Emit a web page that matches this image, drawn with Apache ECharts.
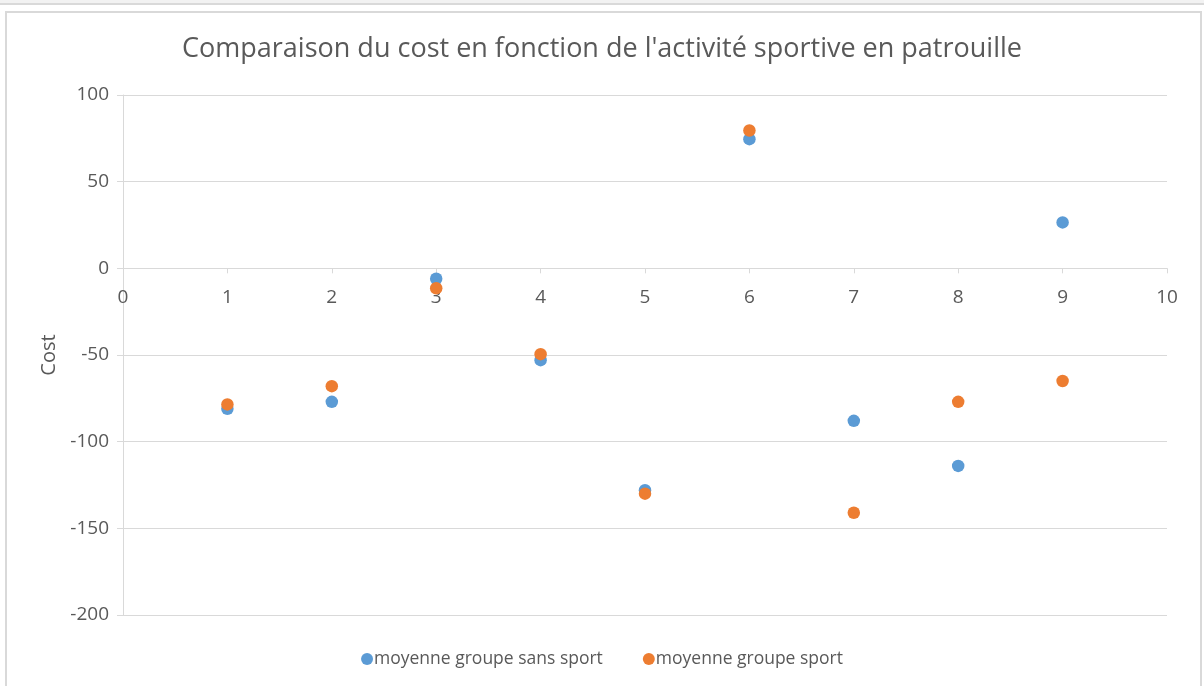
<!DOCTYPE html>
<html>
<head>
<meta charset="utf-8">
<script src="https://cdn.jsdelivr.net/npm/echarts@6/dist/echarts.min.js"></script>
<style>
  html, body { margin: 0; padding: 0; background: #ffffff; }
  #chart { width: 1204px; height: 686px; }
</style>
</head>
<body>
<div id="chart"></div>
<script>
// Patrol index (x) and mean cost per group
const patrouilles = [1, 2, 3, 4, 5, 6, 7, 8, 9];
const sansSport = [-81, -77, -6, -53, -128, 74.5, -88, -114, 26.5];
const avecSport = [-78.5, -68, -11.5, -49.5, -130, 79.5, -141, -77, -65];

const seriesNames = ['moyenne groupe sans sport', 'moyenne groupe sport'];
const colors = ['#5B9BD5', '#ED7D31'];
const FONT = '"Open Sans", "Liberation Sans", sans-serif';
const TXT = '#595959';
const GRID_LINE = '#d9d9d9';

// plot area geometry
const GRID = { left: 123, right: 37, top: 95, bottom: 71 };
const Y_MIN = -200, Y_MAX = 100;
const plotH = 686 - GRID.top - GRID.bottom;
// lift the x axis (line, ticks and labels) up to y = 0
const xAxisOffset = -plotH * (0 - Y_MIN) / (Y_MAX - Y_MIN);

const toPairs = (xs, ys) => xs.map((x, i) => [x, ys[i]]);

const chart = echarts.init(document.getElementById('chart'), null, { renderer: 'canvas' });
chart.setOption({
  backgroundColor: '#ffffff',
  animation: false,
  textStyle: { fontFamily: FONT },
  title: {
    text: "Comparaison du cost en fonction de l'activité sportive en patrouille",
    left: 'center',
    top: 31,
    textStyle: { fontFamily: FONT, fontSize: 27, fontWeight: 'normal', color: TXT }
  },
  graphic: [
    { type: 'rect', shape: { x: 0, y: 0, width: 1204, height: 4 }, style: { fill: '#f2f2f2' } },
    { type: 'line', shape: { x1: 0, y1: 4, x2: 1204, y2: 4 }, style: { stroke: GRID_LINE, lineWidth: 2 } },
    { type: 'polyline', shape: { points: [[6, 686], [6, 12], [1201, 12], [1201, 686]] },
      style: { stroke: GRID_LINE, lineWidth: 2, fill: null } }
  ],
  legend: {
    bottom: 13,
    left: 'center',
    itemGap: 40,
    itemWidth: 12,
    itemHeight: 12,
    icon: 'circle',
    textStyle: { fontFamily: FONT, fontSize: 17.5, color: TXT, padding: [0, 0, 0, -4] },
    data: seriesNames
  },
  grid: { left: GRID.left, right: GRID.right, top: GRID.top, bottom: GRID.bottom, containLabel: false },
  xAxis: {
    type: 'value',
    min: 0, max: 10, interval: 1,
    offset: xAxisOffset,
    axisLine: { onZero: false, lineStyle: { color: GRID_LINE, width: 1 } },
    axisTick: { show: true, length: 5, lineStyle: { color: GRID_LINE } },
    axisLabel: { color: TXT, fontSize: 19, fontFamily: FONT, margin: 20 },
    splitLine: { show: false }
  },
  yAxis: {
    type: 'value',
    min: Y_MIN, max: Y_MAX, interval: 50,
    name: 'Cost',
    nameLocation: 'middle',
    nameRotate: 90,
    nameGap: 64,
    nameTextStyle: { color: TXT, fontSize: 20, fontFamily: FONT },
    axisLine: { show: true, onZero: false, lineStyle: { color: GRID_LINE, width: 1 } },
    axisTick: { show: true, length: 6, lineStyle: { color: GRID_LINE } },
    axisLabel: { color: TXT, fontSize: 19, fontFamily: FONT, margin: 14 },
    splitLine: { show: true, lineStyle: { color: GRID_LINE, width: 1 } }
  },
  series: [
    { name: seriesNames[0], type: 'scatter', symbolSize: 12.5,
      itemStyle: { color: colors[0], opacity: 1 }, data: toPairs(patrouilles, sansSport) },
    { name: seriesNames[1], type: 'scatter', symbolSize: 12.5,
      itemStyle: { color: colors[1], opacity: 1 }, data: toPairs(patrouilles, avecSport) }
  ]
});
</script>
</body>
</html>
